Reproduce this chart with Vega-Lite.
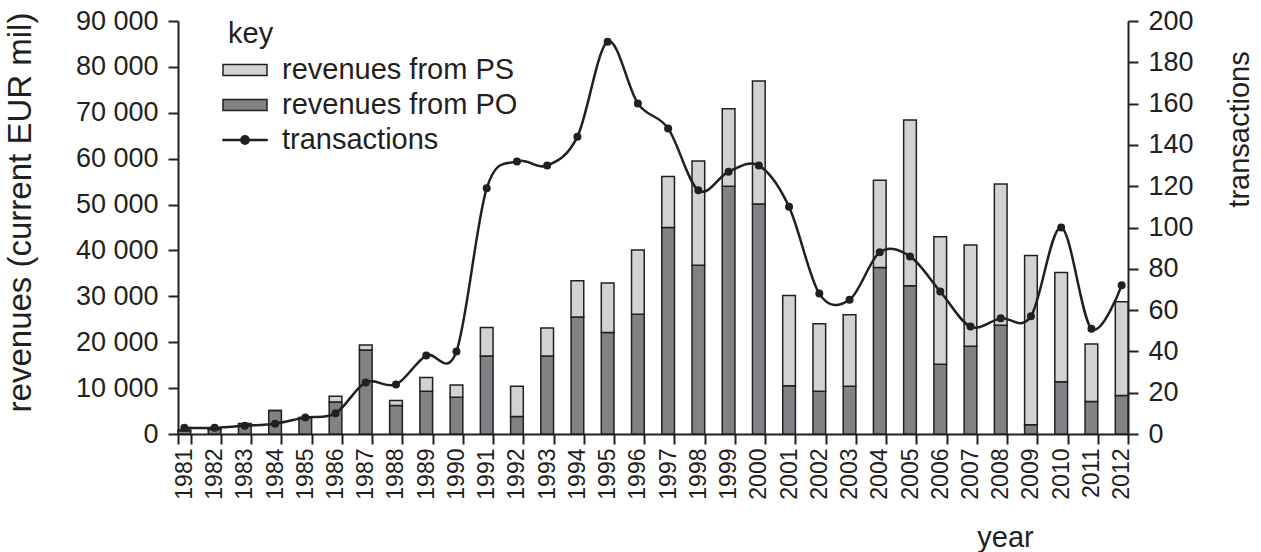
{
  "$schema": "https://vega.github.io/schema/vega-lite/v6.json",
  "width": 950,
  "height": 413,
  "autosize": {"type": "none"},
  "padding": {"left": 178, "top": 21, "right": 133, "bottom": 118},
  "background": "white",
  "config": {
    "font": "Liberation Sans",
    "view": {"stroke": null},
    "axis": {
      "domainColor": "#231f20", "domainWidth": 2,
      "tickColor": "#231f20", "tickWidth": 2, "tickSize": 10,
      "labelColor": "#231f20", "titleColor": "#231f20",
      "grid": false, "titleFontWeight": "normal",
      "labelFont": "Liberation Sans", "titleFont": "Liberation Sans"
    }
  },
  "datasets": {
    "rev": [
      {"year": "1981", "type": "revenues from PO", "value": 700},
      {"year": "1981", "type": "revenues from PS", "value": 200},
      {"year": "1982", "type": "revenues from PO", "value": 1000},
      {"year": "1982", "type": "revenues from PS", "value": 300},
      {"year": "1983", "type": "revenues from PO", "value": 1900},
      {"year": "1983", "type": "revenues from PS", "value": 400},
      {"year": "1984", "type": "revenues from PO", "value": 5100},
      {"year": "1984", "type": "revenues from PS", "value": 0},
      {"year": "1985", "type": "revenues from PO", "value": 3600},
      {"year": "1985", "type": "revenues from PS", "value": 0},
      {"year": "1986", "type": "revenues from PO", "value": 7000},
      {"year": "1986", "type": "revenues from PS", "value": 1200},
      {"year": "1987", "type": "revenues from PO", "value": 18300},
      {"year": "1987", "type": "revenues from PS", "value": 1100},
      {"year": "1988", "type": "revenues from PO", "value": 6200},
      {"year": "1988", "type": "revenues from PS", "value": 1100},
      {"year": "1989", "type": "revenues from PO", "value": 9300},
      {"year": "1989", "type": "revenues from PS", "value": 3000},
      {"year": "1990", "type": "revenues from PO", "value": 8000},
      {"year": "1990", "type": "revenues from PS", "value": 2700},
      {"year": "1991", "type": "revenues from PO", "value": 17000},
      {"year": "1991", "type": "revenues from PS", "value": 6200},
      {"year": "1992", "type": "revenues from PO", "value": 3800},
      {"year": "1992", "type": "revenues from PS", "value": 6600},
      {"year": "1993", "type": "revenues from PO", "value": 17000},
      {"year": "1993", "type": "revenues from PS", "value": 6100},
      {"year": "1994", "type": "revenues from PO", "value": 25500},
      {"year": "1994", "type": "revenues from PS", "value": 7900},
      {"year": "1995", "type": "revenues from PO", "value": 22100},
      {"year": "1995", "type": "revenues from PS", "value": 10800},
      {"year": "1996", "type": "revenues from PO", "value": 26100},
      {"year": "1996", "type": "revenues from PS", "value": 14000},
      {"year": "1997", "type": "revenues from PO", "value": 45000},
      {"year": "1997", "type": "revenues from PS", "value": 11100},
      {"year": "1998", "type": "revenues from PO", "value": 36800},
      {"year": "1998", "type": "revenues from PS", "value": 22700},
      {"year": "1999", "type": "revenues from PO", "value": 54000},
      {"year": "1999", "type": "revenues from PS", "value": 16900},
      {"year": "2000", "type": "revenues from PO", "value": 50100},
      {"year": "2000", "type": "revenues from PS", "value": 26800},
      {"year": "2001", "type": "revenues from PO", "value": 10500},
      {"year": "2001", "type": "revenues from PS", "value": 19700},
      {"year": "2002", "type": "revenues from PO", "value": 9300},
      {"year": "2002", "type": "revenues from PS", "value": 14700},
      {"year": "2003", "type": "revenues from PO", "value": 10400},
      {"year": "2003", "type": "revenues from PS", "value": 15600},
      {"year": "2004", "type": "revenues from PO", "value": 36300},
      {"year": "2004", "type": "revenues from PS", "value": 19000},
      {"year": "2005", "type": "revenues from PO", "value": 32300},
      {"year": "2005", "type": "revenues from PS", "value": 36100},
      {"year": "2006", "type": "revenues from PO", "value": 15200},
      {"year": "2006", "type": "revenues from PS", "value": 27800},
      {"year": "2007", "type": "revenues from PO", "value": 19100},
      {"year": "2007", "type": "revenues from PS", "value": 22100},
      {"year": "2008", "type": "revenues from PO", "value": 23700},
      {"year": "2008", "type": "revenues from PS", "value": 30800},
      {"year": "2009", "type": "revenues from PO", "value": 2000},
      {"year": "2009", "type": "revenues from PS", "value": 36900},
      {"year": "2010", "type": "revenues from PO", "value": 11400},
      {"year": "2010", "type": "revenues from PS", "value": 23800},
      {"year": "2011", "type": "revenues from PO", "value": 7100},
      {"year": "2011", "type": "revenues from PS", "value": 12500},
      {"year": "2012", "type": "revenues from PO", "value": 8400},
      {"year": "2012", "type": "revenues from PS", "value": 20400}
    ],
    "tx": [
      {"year": "1981", "transactions": 3},
      {"year": "1982", "transactions": 3},
      {"year": "1983", "transactions": 4},
      {"year": "1984", "transactions": 5},
      {"year": "1985", "transactions": 8},
      {"year": "1986", "transactions": 10},
      {"year": "1987", "transactions": 25},
      {"year": "1988", "transactions": 24},
      {"year": "1989", "transactions": 38},
      {"year": "1990", "transactions": 40},
      {"year": "1991", "transactions": 119},
      {"year": "1992", "transactions": 132},
      {"year": "1993", "transactions": 130},
      {"year": "1994", "transactions": 144},
      {"year": "1995", "transactions": 190},
      {"year": "1996", "transactions": 160},
      {"year": "1997", "transactions": 148},
      {"year": "1998", "transactions": 118},
      {"year": "1999", "transactions": 127},
      {"year": "2000", "transactions": 130},
      {"year": "2001", "transactions": 110},
      {"year": "2002", "transactions": 68},
      {"year": "2003", "transactions": 65},
      {"year": "2004", "transactions": 88},
      {"year": "2005", "transactions": 86},
      {"year": "2006", "transactions": 69},
      {"year": "2007", "transactions": 52},
      {"year": "2008", "transactions": 56},
      {"year": "2009", "transactions": 57},
      {"year": "2010", "transactions": 100},
      {"year": "2011", "transactions": 51},
      {"year": "2012", "transactions": 72}
    ]
  },
  "layer": [
    {
      "data": {"name": "rev"},
      "mark": {"type": "bar", "stroke": "#231f20", "strokeWidth": 1.5},
      "encoding": {
        "x": {
          "field": "year", "type": "ordinal",
          "scale": {"paddingInner": 0.58, "paddingOuter": 0},
          "axis": {
            "title": "year", "labelAngle": -90, "labelFontSize": 23, "labelPadding": 4,
            "tickBand": "extent", "titleFontSize": 29, "titleX": 827, "titleY": 112,
            "titleBaseline": "alphabetic", "titleAlign": "center"
          }
        },
        "y": {
          "field": "value", "type": "quantitative", "stack": "zero",
          "scale": {"domain": [0, 90000], "nice": false},
          "axis": {
            "title": "revenues (current EUR mil)",
            "values": [0, 10000, 20000, 30000, 40000, 50000, 60000, 70000, 80000, 90000],
            "labelExpr": "replace(format(datum.value, ','), ',', ' ')",
            "labelFontSize": 27, "labelPadding": 10,
            "titleFontSize": 33, "titleAngle": -90, "titleX": -158, "titleY": 191,
            "titleBaseline": "middle", "titleAlign": "center"
          }
        },
        "fill": {
          "field": "type", "type": "nominal",
          "scale": {
            "domain": ["revenues from PS", "revenues from PO", "transactions"],
            "range": ["#d1d2d4", "#808285", "#231f20"]
          },
          "legend": {
            "title": "key", "orient": "none", "legendX": 50, "legendY": -1,
            "titleFontSize": 29, "titleFontWeight": "normal", "titleColor": "#231f20",
            "labelFontSize": 29, "labelColor": "#231f20", "labelLimit": 400,
            "titlePadding": 4, "rowPadding": 3, "labelOffset": 20, "padding": 0,
            "symbolSize": 1024, "symbolType": "M-1.375,-0.344H1.375V0.344H-1.375Z",
            "symbolStrokeWidth": 1.5, "symbolStrokeColor": "#231f20", "symbolOpacity": 1,
            "encode": {
              "symbols": {
                "update": {
                  "shape": [
                    {"test": "datum.label === 'transactions'", "value": "M-1.375,-0.03H1.375V0.03H-1.375ZM0.26,0A0.26,0.26,0,1,1,-0.26,0A0.26,0.26,0,1,1,0.26,0Z"},
                    {"value": "M-1.375,-0.344H1.375V0.344H-1.375Z"}
                  ],
                  "stroke": {"value": "#231f20"},
                  "strokeWidth": {"value": 1.5}
                }
              }
            }
          }
        },
        "order": {"field": "type", "type": "ordinal", "sort": "ascending"}
      }
    },
    {
      "data": {"name": "tx"},
      "encoding": {
        "x": {"field": "year", "type": "ordinal"},
        "y": {
          "field": "transactions", "type": "quantitative",
          "scale": {"domain": [0, 200], "nice": false},
          "axis": {
            "orient": "right", "title": "transactions",
            "values": [0, 20, 40, 60, 80, 100, 120, 140, 160, 180, 200],
            "labelFontSize": 27, "labelPadding": 10,
            "titleFontSize": 29, "titleAngle": -90, "titleX": 111, "titleY": 108,
            "titleBaseline": "middle", "titleAlign": "center"
          }
        }
      },
      "layer": [
        {"mark": {"type": "line", "interpolate": "cardinal", "strokeWidth": 2.5, "color": "#231f20"}},
        {
          "mark": {"type": "point", "filled": true, "size": 64, "opacity": 1, "stroke": "#231f20", "strokeWidth": 0},
          "encoding": {"fill": {"datum": "transactions"}}
        }
      ]
    }
  ],
  "resolve": {"scale": {"y": "independent"}}
}
